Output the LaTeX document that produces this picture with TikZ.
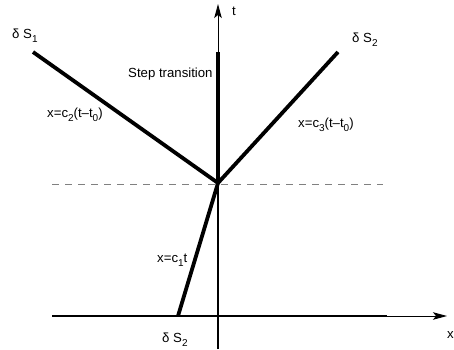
\documentclass[tikz,border=0pt]{standalone}
\usepackage{fontspec}
\setmainfont{Liberation Sans}
\usetikzlibrary{arrows.meta}
\newcommand{\lowsub}[1]{\raisebox{-4.5pt}{\fontsize{10}{10}\selectfont #1}}
\begin{document}
\begin{tikzpicture}[x=1pt,y=1pt,
  lbl/.style={inner sep=0pt, anchor=base west, font=\fontsize{13.2}{15}\selectfont},
  front/.style={line width=3.8pt, line cap=butt},
  axisthick/.style={line width=1.8pt},
  axisthin/.style={line width=0.9pt, -{Stealth[length=14pt,width=7.5pt,inset=3pt]}},
  guide/.style={gray, line width=0.9pt, dash pattern=on 7pt off 6pt}]
\useasboundingbox (0,0) rectangle (454,349);
% coordinates
\coordinate (O) at (218,166);
\coordinate (S1) at (33,297);
\coordinate (S2) at (338,297);
\coordinate (B) at (178,33);
\coordinate (Ttop) at (218,345);
\coordinate (Tbot) at (218,0);
\coordinate (Tstep) at (218,297);
\coordinate (Xl) at (52,33);
\coordinate (Xm) at (387,33);
\coordinate (Xr) at (447,33);
\coordinate (Dl) at (52,165);
\coordinate (Dr) at (383,165);
% axes
\draw[guide] (Dl) -- (Dr);
\draw[axisthick] (Xl) -- (Xm);
\draw[axisthin] (Xl) -- (Xr);
\draw[axisthick] (Tbot) -- (O);
\draw[axisthin] (O) -- (Ttop);
% fronts
\draw[front] (S1) -- (O) -- (S2);
\draw[front] (O) -- (Tstep);
\draw[front] (O) -- (B);
% labels
\node[lbl] (lS1) at (12,311) {δ S\lowsub{1}};
\node[lbl] (lstep) at (128,272) {Step transition};
\node[lbl] (lc2) at (47,232) {x=c\lowsub{2}(t–t\lowsub{0})};
\node[lbl] (lt) at (232,334) {t};
\node[lbl] (lS2t) at (352,307) {δ S\lowsub{2}};
\node[lbl] (lc3) at (298,222) {x=c\lowsub{3}(t–t\lowsub{0})};
\node[lbl] (lc1) at (157,87) {x=c\lowsub{1}t};
\node[lbl] (lS2b) at (162,7) {δ S\lowsub{2}};
\node[lbl] (lx) at (447,11) {x};
\end{tikzpicture}
\end{document}
